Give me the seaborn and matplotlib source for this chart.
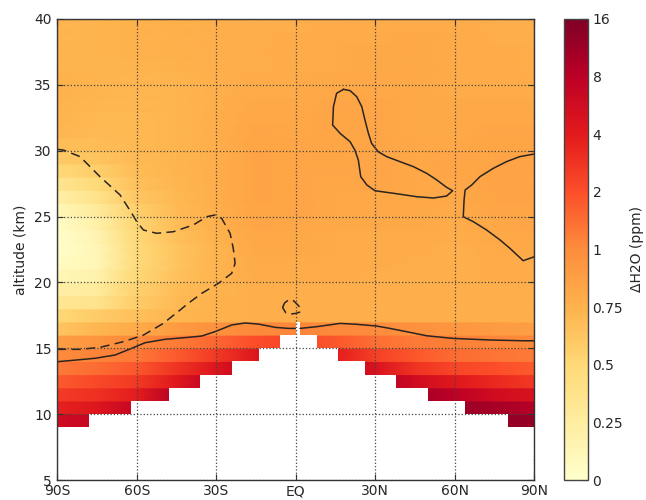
import numpy as np
import matplotlib
matplotlib.use("Agg")
import matplotlib.pyplot as plt
import seaborn as sns

# ---------------- data ----------------
lat_nodes = [-90, -75, -60, -45, -30, -15, 0, 15, 30, 45, 60, 75, 90]
alt_edges = list(range(9, 41))          # 1-km bands from 9 to 40 km

# delta H2O (ppm), rows from band 39-40 km (top) down to band 9-10 km (bottom)
dh2o_rows = [
    [0.73, 0.74, 0.75, 0.76, 0.77, 0.78, 0.78, 0.79, 0.80, 0.80, 0.79, 0.78, 0.77],
    [0.73, 0.74, 0.75, 0.76, 0.77, 0.78, 0.79, 0.80, 0.80, 0.81, 0.80, 0.78, 0.77],
    [0.74, 0.74, 0.75, 0.76, 0.77, 0.78, 0.79, 0.80, 0.81, 0.81, 0.80, 0.79, 0.78],
    [0.74, 0.74, 0.74, 0.75, 0.77, 0.78, 0.79, 0.80, 0.81, 0.81, 0.80, 0.79, 0.78],
    [0.75, 0.74, 0.73, 0.74, 0.77, 0.79, 0.80, 0.81, 0.82, 0.81, 0.80, 0.79, 0.79],
    [0.75, 0.73, 0.72, 0.73, 0.77, 0.80, 0.80, 0.82, 0.82, 0.81, 0.80, 0.80, 0.80],
    [0.74, 0.72, 0.72, 0.73, 0.77, 0.81, 0.81, 0.83, 0.83, 0.81, 0.81, 0.81, 0.81],
    [0.73, 0.71, 0.71, 0.73, 0.78, 0.82, 0.82, 0.84, 0.83, 0.81, 0.81, 0.82, 0.82],
    [0.72, 0.70, 0.71, 0.73, 0.78, 0.83, 0.82, 0.84, 0.83, 0.81, 0.81, 0.83, 0.83],
    [0.68, 0.68, 0.71, 0.73, 0.78, 0.84, 0.83, 0.84, 0.83, 0.82, 0.82, 0.84, 0.84],
    [0.60, 0.64, 0.70, 0.73, 0.78, 0.85, 0.83, 0.84, 0.83, 0.82, 0.83, 0.84, 0.85],
    [0.50, 0.57, 0.68, 0.73, 0.78, 0.85, 0.83, 0.83, 0.83, 0.82, 0.83, 0.85, 0.85],
    [0.35, 0.48, 0.66, 0.72, 0.78, 0.85, 0.83, 0.82, 0.83, 0.82, 0.82, 0.85, 0.85],
    [0.22, 0.38, 0.62, 0.71, 0.78, 0.85, 0.83, 0.82, 0.82, 0.82, 0.81, 0.84, 0.85],
    [0.12, 0.28, 0.57, 0.70, 0.77, 0.84, 0.83, 0.82, 0.82, 0.81, 0.80, 0.83, 0.84],
    [0.05, 0.20, 0.53, 0.68, 0.76, 0.83, 0.82, 0.81, 0.81, 0.81, 0.79, 0.82, 0.83],
    [0.02, 0.15, 0.50, 0.66, 0.75, 0.82, 0.81, 0.80, 0.80, 0.80, 0.78, 0.81, 0.82],
    [0.02, 0.13, 0.48, 0.64, 0.74, 0.81, 0.81, 0.80, 0.79, 0.79, 0.77, 0.80, 0.81],
    [0.06, 0.13, 0.48, 0.64, 0.74, 0.80, 0.80, 0.79, 0.79, 0.78, 0.77, 0.79, 0.80],
    [0.12, 0.18, 0.50, 0.65, 0.74, 0.79, 0.79, 0.79, 0.78, 0.78, 0.77, 0.79, 0.79],
    [0.22, 0.27, 0.55, 0.68, 0.74, 0.78, 0.78, 0.78, 0.78, 0.77, 0.77, 0.78, 0.78],
    [0.33, 0.36, 0.58, 0.70, 0.75, 0.77, 0.78, 0.78, 0.78, 0.77, 0.77, 0.78, 0.78],
    [0.50, 0.58, 0.66, 0.72, 0.75, 0.77, 0.78, 0.78, 0.78, 0.77, 0.77, 0.78, 0.78],
    [0.63, 0.72, 0.80, 0.90, 0.97, 1.05, 1.10, 1.05, 1.00, 0.97, 0.93, 0.90, 0.88],
    [0.88, 0.95, 1.05, 1.25, 1.60, 2.10, 2.30, 1.85, 1.45, 1.30, 1.20, 1.12, 1.05],
    [1.02, 1.15, 1.30, 1.80, 2.80, 4.50, 5.00, 3.90, 2.50, 1.85, 1.50, 1.38, 1.30],
    [1.30, 1.50, 1.85, 3.00, 4.50, 8.00, 8.00, 8.00, 5.00, 3.00, 2.30, 2.00, 1.80],
    [1.80, 2.20, 2.80, 4.30, 8.00, 8.00, 8.00, 9.00, 9.00, 6.00, 4.30, 3.40, 2.80],
    [2.70, 3.10, 3.90, 9.00, 9.00, 9.00, 9.00, 10.0, 11.0, 11.0, 7.80, 6.00, 5.00],
    [3.70, 4.60, 7.00, 8.00, 8.00, 8.00, 8.00, 10.0, 12.0, 13.0, 12.5, 10.5, 8.80],
    [6.00, 7.00, 8.00, 8.00, 8.00, 8.00, 8.00, 10.0, 12.0, 13.0, 13.0, 13.0, 13.0],
]

# colour scale (equally spaced, non-linear values)
cbar_values = [0, 0.25, 0.5, 0.75, 1, 2, 4, 8, 16]
cbar_labels = ["0", "0.25", "0.5", "0.75", "1", "2", "4", "8", "16"]
cbar_minor_values = [3, 5, 6, 7, 9, 10, 11, 12, 13, 14, 15]

# axes
lat_ticks = [-90, -60, -30, 0, 30, 60, 90]
lat_labels = ["90S", "60S", "30S", "EQ", "30N", "60N", "90N"]
alt_ticks = [5, 10, 15, 20, 25, 30, 35, 40]

# region without data (below the lowest valid level)
mask_lat_edges = [-90, -78, -62, -48, -36, -24, -14, -6, 0, 1.5, 8, 16, 26, 38, 50, 64, 80, 90]
mask_top_alt = [9, 10, 11, 12, 13, 14, 15, 16, 17, 16, 15, 14, 13, 12, 11, 10, 9]

# solid contour near the tropopause (south part / north part)
tropo_s_lat = [-90, -83.3, -75.8, -68.2, -61.9, -56.9, -49.4, -40.6, -35.5, -30.5, -24.2,
               -19.2, -14.1, -7.8, -2.8, -0.2]
tropo_s_alt = [13.98, 14.1, 14.24, 14.49, 15.0, 15.42, 15.68, 15.83, 15.93, 16.26, 16.77,
               16.92, 16.84, 16.59, 16.51, 16.51]
tropo_n_lat = [1.6, 7.9, 16.7, 23.0, 30.5, 35.5, 41.8, 49.4, 59.4, 73.3, 85.8, 90]
tropo_n_alt = [16.51, 16.64, 16.89, 16.82, 16.69, 16.51, 16.26, 15.95, 15.75, 15.63, 15.57, 15.57]

# dashed contour, southern hemisphere
dash_lat = [-90, -87.7, -81.4, -73.9, -66.3, -61.9, -60.0, -57.5, -52.5, -46.2, -38.7, -33.6,
            -30.5, -28.0, -24.8, -23.6, -22.9, -24.2, -29.2, -35.5, -40.6, -43.7, -50.0,
            -57.5, -65.1, -73.9, -81.4, -90]
dash_alt = [30.1, 30.05, 29.55, 28.03, 26.64, 25.25, 24.61, 23.98, 23.73, 23.85, 24.36, 24.99,
            25.12, 24.87, 23.73, 22.59, 21.45, 20.69, 19.93, 19.17, 18.41, 17.9, 16.89,
            16.0, 15.5, 15.07, 14.92, 14.92]

# small dashed loop near the equator
eq_loop_lat = [-5.0, -4.2, -2.5, -0.8, 0.5, 1.8, 1.5, 0.0, -2.0, -3.8, -5.0]
eq_loop_alt = [18.1, 18.45, 18.7, 18.6, 18.35, 18.05, 17.75, 17.65, 17.6, 17.7, 18.1]

# solid closed contour, northern subtropics
nh_loop_lat = [18.0, 15.4, 14.2, 13.9, 16.7, 20.5, 22.3, 23.6, 24.5, 26.8, 29.9, 36.8, 45.6,
               51.9, 56.9, 59.2, 56.9, 53.2, 49.4, 44.4, 39.3, 34.3, 31.1, 28.6, 27.4, 26.1,
               24.9, 23.0, 20.5, 18.0]
nh_loop_alt = [34.66, 34.36, 33.34, 31.95, 31.32, 30.68, 30.05, 29.29, 28.03, 27.4, 26.96,
               26.77, 26.51, 26.41, 26.56, 26.96, 27.22, 27.78, 28.28, 28.79, 29.17, 29.55,
               29.92, 30.56, 31.32, 32.33, 33.34, 34.10, 34.56, 34.66]

# solid contour, northern polar region
polar_lat = [90, 84.5, 79.5, 74.5, 69.5, 66.4, 63.9, 63.5, 63.2, 67.0, 72.0, 77.1, 80.8, 85.8, 90]
polar_alt = [29.75, 29.55, 29.17, 28.66, 28.03, 27.4, 27.02, 26.26, 24.99, 24.61, 23.98,
             23.22, 22.59, 21.65, 21.95]

# ---------------- figure ----------------
sns.set_style("ticks")
plt.rcParams["font.family"] = ["DejaVu Sans"]
plt.rcParams["font.size"] = 10

fig = plt.figure(figsize=(6.46, 5.0), dpi=100)
ax = fig.add_axes([57.3 / 646, 20 / 500, 477 / 646, 461 / 500])
cax = fig.add_axes([564.3 / 646, 20 / 500, 23.4 / 646, 461 / 500])

cmap = plt.get_cmap("YlOrRd")
vals = np.array(dh2o_rows, dtype=float)[::-1]               # bottom band first
pos = np.interp(vals, cbar_values, np.arange(len(cbar_values)))
edges = np.array(alt_edges, dtype=float)
y_vert = np.repeat(edges, 2)[1:-1]
c_vert = np.repeat(pos, 2, axis=0)
mesh = ax.pcolormesh(np.array(lat_nodes, dtype=float), y_vert, c_vert, shading="gouraud",
                     cmap=cmap, vmin=0, vmax=len(cbar_values) - 1, zorder=1)

ax.fill_between(mask_lat_edges, 4, mask_top_alt + [mask_top_alt[-1]], step="post",
                color="white", lw=0, zorder=1.2)

line_col = "#2b2420"
for xs, ys in [(tropo_s_lat, tropo_s_alt), (tropo_n_lat, tropo_n_alt),
               (nh_loop_lat, nh_loop_alt), (polar_lat, polar_alt)]:
    sns.lineplot(x=xs, y=ys, sort=False, estimator=None, color=line_col, lw=1.1, ax=ax,
                 zorder=2)
for xs, ys in [(dash_lat, dash_alt), (eq_loop_lat, eq_loop_alt)]:
    sns.lineplot(x=xs, y=ys, sort=False, estimator=None, color=line_col, lw=1.1, ax=ax,
                 zorder=2)
    ax.lines[-1].set_dashes((6, 3.5))

ax.set_xlim(-90, 90)
ax.set_ylim(5, 40)
ax.set_xticks(lat_ticks)
ax.set_xticklabels(lat_labels)
ax.set_yticks(alt_ticks)
ax.set_ylabel("altitude (km)", fontsize=10, labelpad=5)
ax.set_xlabel("")
ax.tick_params(direction="in", top=True, right=True, length=4, width=0.8,
               labelsize=10, color="#333333")
ax.tick_params(axis="x", pad=3)
ax.tick_params(axis="y", pad=4)
ax.set_axisbelow(False)
ax.grid(True, color="#444444", linestyle=":", linewidth=0.9)
for s in ax.spines.values():
    s.set_color("#333333")
    s.set_linewidth(1.0)
    s.set_visible(True)

cb = fig.colorbar(mesh, cax=cax, ticks=list(range(len(cbar_values))))
cb.ax.set_yticklabels(cbar_labels)
minor_pos = np.interp(cbar_minor_values, cbar_values, np.arange(len(cbar_values)))
cb.ax.yaxis.set_ticks(minor_pos, minor=True)
cb.ax.tick_params(which="both", direction="in", right=True, left=False, labelsize=10,
                  color="#333333", width=0.8)
cb.ax.tick_params(which="major", length=6)
cb.ax.tick_params(which="minor", length=4)
cb.outline.set_edgecolor("#444444")
cb.outline.set_linewidth(1.0)
cb.set_label("\u0394H2O (ppm)", fontsize=10, labelpad=5)

fig.savefig("out.png", dpi=100, facecolor="white")
